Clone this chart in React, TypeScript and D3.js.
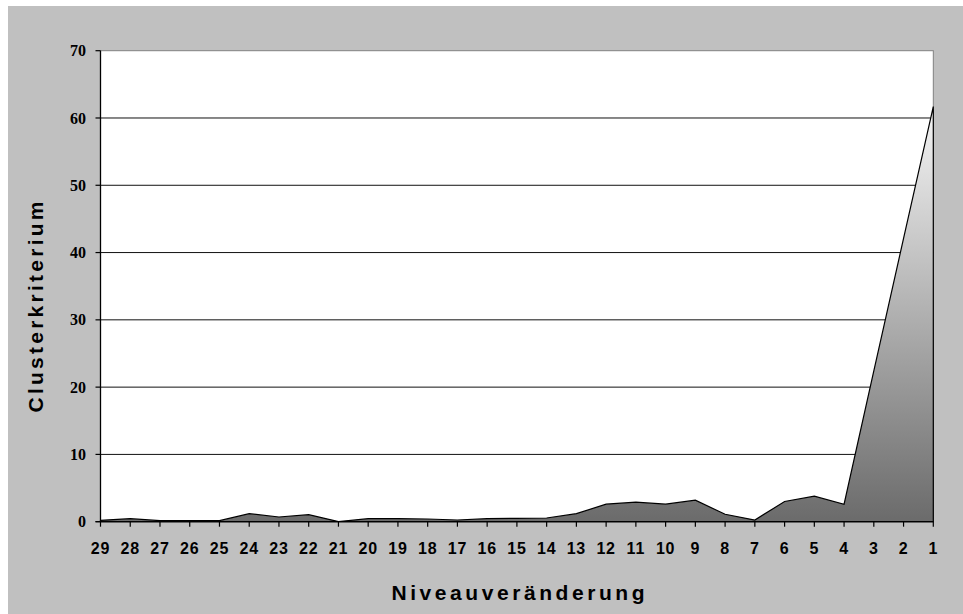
import React from 'react';
import * as d3 from 'd3';

// categories run from 29 down to 1 (Niveauveränderung)
const categories: string[] = [
    '29', '28', '27', '26', '25', '24', '23', '22', '21', '20',
    '19', '18', '17', '16', '15', '14', '13', '12', '11', '10',
    '9', '8', '7', '6', '5', '4', '3', '2', '1'
];

// Clusterkriterium per step
const values: number[] = [
    0.2, 0.45, 0.15, 0.15, 0.15, 1.2, 0.7, 1.05, 0.02, 0.45,
    0.45, 0.4, 0.25, 0.45, 0.5, 0.55, 1.2, 2.6, 2.9, 2.6,
    3.2, 1.1, 0.25, 3.0, 3.8, 2.6, 22.4, 42.1, 61.7
];

const yTicks: number[] = [0, 10, 20, 30, 40, 50, 60, 70];

const W = 955;
const H = 608;
const margin = { top: 44.7, right: 29.7, bottom: 92.3, left: 92.5 };

const App: React.FC = () => {
    const innerRight = W - margin.right;
    const innerBottom = H - margin.bottom;

    const x = d3.scalePoint<string>()
        .domain(categories)
        .range([margin.left, innerRight]);

    const y = d3.scaleLinear()
        .domain([0, 70])
        .range([innerBottom, margin.top]);

    const rows = categories.map((c, i) => ({ c, v: values[i] }));

    const area = d3.area<{ c: string; v: number }>()
        .x(d => x(d.c) ?? 0)
        .y0(y(0))
        .y1(d => y(d.v));

    const sans = '"Liberation Sans", Arial, sans-serif';
    const serif = '"Liberation Serif", "Times New Roman", serif';

    return (
        <svg width={W} height={H} style={{ position: 'absolute', left: 8, top: 6 }}>
            <defs>
                <linearGradient id="areaFill" gradientUnits="userSpaceOnUse"
                    x1={0} x2={0} y1={y(62)} y2={y(0)}>
                    <stop offset="0%" stopColor="#f6f6f6" />
                    <stop offset="100%" stopColor="#6b6b6b" />
                </linearGradient>
            </defs>
            <rect x={0} y={0} width={W} height={H} fill="#c0c0c0" />
            <rect x={margin.left} y={margin.top}
                width={innerRight - margin.left} height={innerBottom - margin.top}
                fill="#ffffff" stroke="#808080" strokeWidth={1} />

            {/* gridlines */}
            {yTicks.filter(t => t > 0 && t < 70).map(t => (
                <line key={'g' + t} x1={margin.left} x2={innerRight}
                    y1={y(t)} y2={y(t)} stroke="#111" strokeWidth={1} />
            ))}

            <path d={area(rows) ?? ''} fill="url(#areaFill)" stroke="#000" strokeWidth={1.2}
                strokeLinejoin="miter" />

            {/* y axis */}
            <line x1={margin.left} x2={margin.left} y1={margin.top} y2={innerBottom}
                stroke="#000" strokeWidth={1.3} />
            {yTicks.map(t => (
                <g key={'y' + t}>
                    <line x1={margin.left - 5} x2={margin.left} y1={y(t)} y2={y(t)}
                        stroke="#000" strokeWidth={1.2} />
                    <text x={78} y={y(t)} dy="0.35em" textAnchor="end"
                        fontFamily={serif} fontWeight="bold" fontSize={16} fill="#000">
                        {t}
                    </text>
                </g>
            ))}

            {/* x axis */}
            <line x1={margin.left - 5} x2={innerRight} y1={innerBottom} y2={innerBottom}
                stroke="#000" strokeWidth={1.3} />
            {categories.map(c => (
                <g key={'x' + c}>
                    <line x1={x(c)} x2={x(c)} y1={innerBottom} y2={innerBottom + 5}
                        stroke="#000" strokeWidth={1.2} />
                    <text x={x(c)} y={548} textAnchor="middle"
                        fontFamily={sans} fontWeight="bold" fontSize={16} fill="#000"
                        letterSpacing={0.8}>
                        {c}
                    </text>
                </g>
            ))}

            <text x={510} y={594} textAnchor="middle" fontFamily={sans} fontWeight="bold"
                fontSize={21} textLength={253} lengthAdjust="spacing" fill="#000">
                Niveauveränderung
            </text>
            <text transform={`translate(35,301) rotate(-90)`} textAnchor="middle"
                fontFamily={sans} fontWeight="bold" fontSize={21} textLength={211}
                lengthAdjust="spacing" fill="#000">
                Clusterkriterium
            </text>
        </svg>
    );
};

export default App;
